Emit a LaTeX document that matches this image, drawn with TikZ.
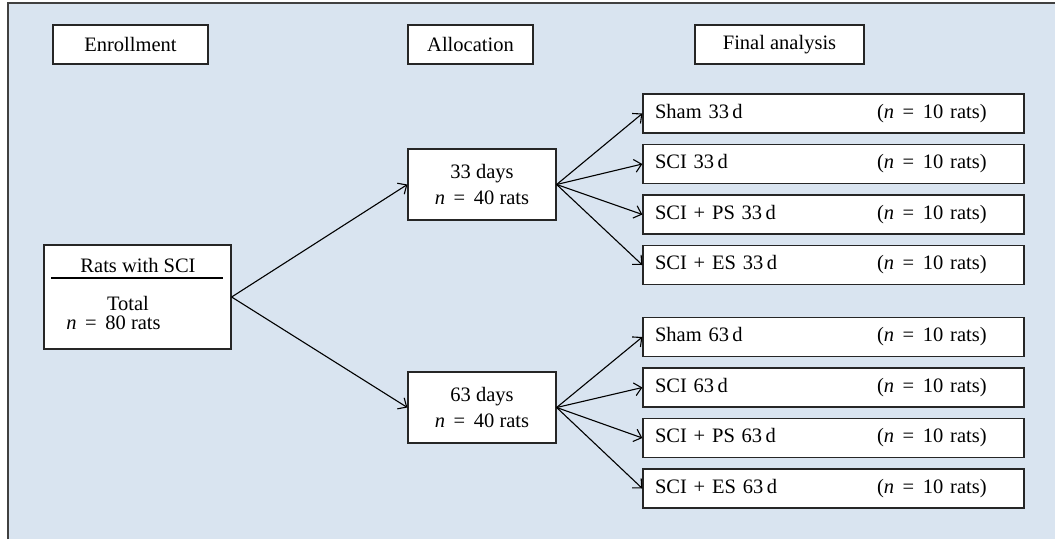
\documentclass[tikz,border=0pt]{standalone}
\usepackage{fontspec}
\setmainfont{Liberation Serif}
\usepackage{xcolor}
\usetikzlibrary{arrows.meta,positioning,calc}
\definecolor{panelblue}{RGB}{217,228,240}
\newcommand{\nrats}[1]{\textit{n}\hspace{0.42em}=\hspace{0.42em}#1 rats}
\newcommand{\grouplabel}[2]{\makebox[222pt][l]{#1}(\nrats{#2})}
\tikzset{
	box/.style={draw=black!85,fill=white,line width=1.3pt,inner sep=0pt},
	headbox/.style={box,minimum height=39pt},
	grpbox/.style={box,minimum width=381pt,minimum height=39pt,text width=357pt,align=left},
	link/.style={line width=1.1pt,-{Straight Barb[length=7pt,width=13pt]}}
}
\begin{document}
\begin{tikzpicture}[x=1pt,y=-1pt,font=\fontsize{20.5}{26}\selectfont]
	\useasboundingbox (0,0) rectangle (1055,539);
	\fill [panelblue] (8,3) rectangle (1055,539);
	\draw [line width=1.5pt,black!75] (8,539) -- (8,3) -- (1055,3);
	\node [headbox,minimum width=155pt] (enroll) at (130.5,44.5) {Enrollment};
	\node [headbox,minimum width=125pt] (alloc) at (470.5,44.5) {Allocation};
	\node [headbox,minimum width=169pt] (final) at (779.5,44.5) {Final analysis};
	\node [box,minimum width=187pt,minimum height=104pt] (rats) at (137.5,297) {};
	\node (ratstitle) at (138,265) {Rats with SCI};
	\draw [line width=2pt] (51,278) -- (223,278);
	\node (ratstotal) at (128,303) {Total};
	\node (ratsn) at (113.5,323) {\nrats{80}};
	\node [box,minimum width=148pt,minimum height=71pt,align=center] (d33) at (482,184.5) {33 days\\\nrats{40}};
	\node [box,minimum width=148pt,minimum height=71pt,align=center] (d63) at (482,407.5) {63 days\\\nrats{40}};
	\node [grpbox] (sham33) at (833.5,113.5) {\grouplabel{Sham 33\,d}{10}};
	\node [grpbox] (sci33) at (833.5,164) {\grouplabel{SCI 33\,d}{10}};
	\node [grpbox] (ps33) at (833.5,214.5) {\grouplabel{SCI + PS 33\,d}{10}};
	\node [grpbox] (es33) at (833.5,265) {\grouplabel{SCI + ES 33\,d}{10}};
	\node [grpbox] (sham63) at (833.5,337) {\grouplabel{Sham 63\,d}{10}};
	\node [grpbox] (sci63) at (833.5,387.5) {\grouplabel{SCI 63\,d}{10}};
	\node [grpbox] (ps63) at (833.5,438) {\grouplabel{SCI + PS 63\,d}{10}};
	\node [grpbox] (es63) at (833.5,488.5) {\grouplabel{SCI + ES 63\,d}{10}};
	\draw [link] (rats.east) -- (d33.west);
	\draw [link] (rats.east) -- (d63.west);
	\draw [link] (d33.east) -- (sham33.west);
	\draw [link] (d33.east) -- (sci33.west);
	\draw [link] (d33.east) -- (ps33.west);
	\draw [link] (d33.east) -- (es33.west);
	\draw [link] (d63.east) -- (sham63.west);
	\draw [link] (d63.east) -- (sci63.west);
	\draw [link] (d63.east) -- (ps63.west);
	\draw [link] (d63.east) -- (es63.west);
\end{tikzpicture}
\end{document}
